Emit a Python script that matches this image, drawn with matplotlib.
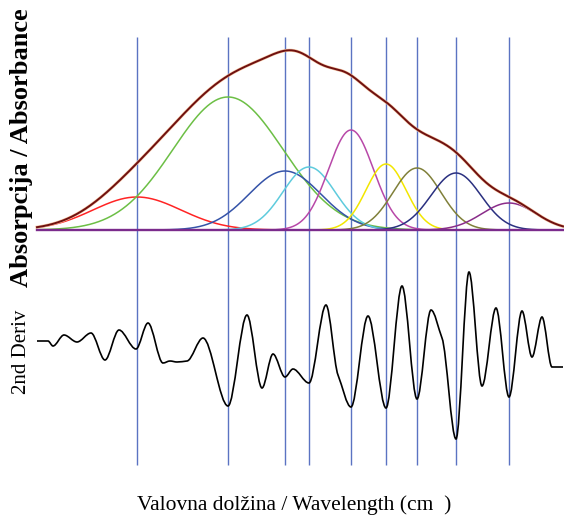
import numpy as np
import matplotlib
matplotlib.use('Agg')
import matplotlib.pyplot as plt
from matplotlib.path import Path
from matplotlib.patches import PathPatch

# fitted bands: position, height, width (sigma)
band_pos = [137, 228, 285, 309, 351, 386, 417, 456, 509]
band_height = [33, 133, 59, 63, 100, 66, 62, 57, 27]
band_width = [44, 55, 36, 26, 22.5, 20, 24, 25, 27]
band_colors = ['#ff2424', '#6cbf45', '#3553a8', '#5ecbdd', '#b848a8',
               '#f2e600', '#80803a', '#2a3080', '#8a2d8a']

# 2nd derivative curve, extrema
deriv_x = [37, 48, 53, 64, 77, 91, 105, 119, 136, 148, 163, 170, 177, 187, 203,
           228, 247, 262, 273, 285, 293, 309, 326, 338, 351, 368, 386, 402, 417,
           431, 442, 456, 469, 482, 496, 509, 522, 532, 542, 552, 563]
deriv_y = [0, 0, -5, 6, -1, 8, -19, 11, -8, 18, -22, -20, -21, -20, 3,
           -65, 26, -47, -13, -36, -28, -42, 36, -34, -66, 25, -67, 55, -58,
           31, 3, -98, 69, -45, 33, -56, 30, -16, 24, -26, -26]

x_range = (37, 563)
deriv_offset = -111


def smooth_path(xs, ys):
    n = len(xs)
    slopes = []
    for i in range(n):
        if i == 0 or i == n - 1:
            m = 0
        else:
            s1 = (ys[i] - ys[i-1]) / (xs[i] - xs[i-1])
            s2 = (ys[i+1] - ys[i]) / (xs[i+1] - xs[i])
            if s1 * s2 <= 0:
                m = 0
            else:
                m = s1 if abs(s1) < abs(s2) else s2
        slopes.append(m)
    verts = [(xs[0], ys[0])]
    codes = [Path.MOVETO]
    for i in range(n - 1):
        dx = (xs[i+1] - xs[i]) / 3
        verts += [(xs[i] + dx, ys[i] + slopes[i]*dx),
                  (xs[i+1] - dx, ys[i+1] - slopes[i+1]*dx),
                  (xs[i+1], ys[i+1])]
        codes += [Path.CURVE4] * 3
    return Path(verts, codes)


fig = plt.figure(figsize=(5.64, 5.16), dpi=100)
ax = fig.add_axes([0, 0, 1, 1])
ax.set_xlim(0, 564)
ax.set_ylim(-286, 230)
ax.axis('off')

# band position markers
ax.vlines(band_pos, -235, 193, color='#5b73c2', lw=1.0, zorder=1)

x = np.linspace(x_range[0], x_range[1], 800)
comps = []
for c, h, w, col in zip(band_pos, band_height, band_width, band_colors):
    g = h * np.exp(-(x - c)**2 / (2 * w**2))
    comps.append(g)
    ax.plot(x, g, color=col, lw=1.1, zorder=3)

envelope = np.sum(comps, axis=0)
ax.plot(x, envelope, color='#f5c4a0', lw=2.2, zorder=4)
ax.plot(x, envelope, color='#6e1010', lw=1.4, zorder=5)
ax.plot(x_range, [0, 0], color='#7b2b8c', lw=1.7, zorder=4)

# second derivative
dy = [v + deriv_offset for v in deriv_y]
ax.add_patch(PathPatch(smooth_path(deriv_x, dy), fill=False,
                       edgecolor='black', lw=1.2, zorder=5))

fig.text(0.039, 0.713, 'Absorpcija / Absorbance', rotation=90, ha='center',
         va='center', fontsize=19, fontweight='bold', family='Liberation Serif')
fig.text(0.039, 0.318, '2nd Deriv', rotation=90, ha='center', va='center',
         fontsize=15, family='Liberation Serif')
fig.text(0.522, 0.022, 'Valovna dolžina / Wavelength (cm  )', ha='center',
         va='center', fontsize=15.5, family='Liberation Serif')

fig.savefig('out.png', dpi=100)
